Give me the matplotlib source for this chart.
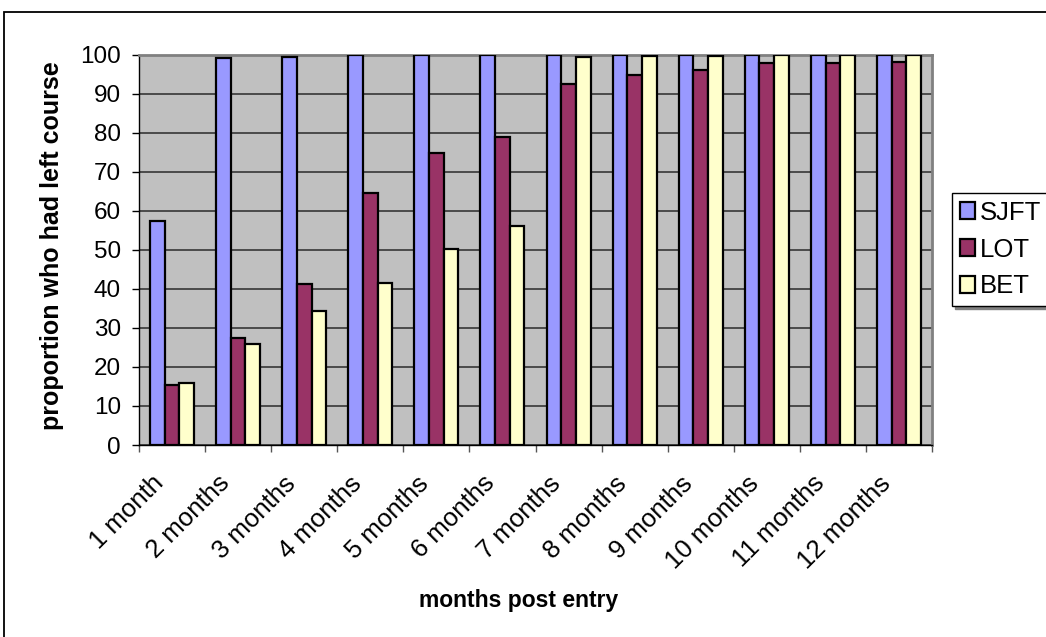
import numpy as np
import matplotlib
matplotlib.use("Agg")
import matplotlib.pyplot as plt
from matplotlib.patches import Rectangle

plt.rcParams['font.family'] = ['Liberation Sans', 'DejaVu Sans']

months = ["1 month", "2 months", "3 months", "4 months", "5 months", "6 months",
          "7 months", "8 months", "9 months", "10 months", "11 months", "12 months"]
sjft = [57.3, 99.1, 99.5, 99.9, 100, 100, 100, 100, 100, 100, 100, 100]
lot = [15.4, 27.5, 41.3, 64.6, 74.7, 78.8, 92.6, 94.8, 96.0, 97.8, 97.9, 98.1]
bet = [15.8, 25.8, 34.4, 41.6, 50.2, 56.0, 99.5, 99.7, 99.7, 99.8, 99.8, 99.8]

series = [("SJFT", sjft, "#9999FF"), ("LOT", lot, "#993366"), ("BET", bet, "#FFFFCC")]

fig = plt.figure(figsize=(10.46, 6.37), dpi=100)
W, H = 1046, 637
ax = fig.add_axes([139 / W, 1 - 445 / H, (932 - 139) / W, (445 - 54.7) / H])
ax.set_facecolor("#C0C0C0")

# outer chart frame
fig.patches.append(Rectangle((4 / W, -0.1), 1.2, 1 - 12 / H + 0.1, transform=fig.transFigure,
                             fill=False, edgecolor="black", linewidth=1.3))

x = np.arange(len(months))
w = 1 / 4.5
for i, (name, vals, col) in enumerate(series):
    ax.bar(x + (i - 1) * w, vals, width=w, color=col, edgecolor="black",
           linewidth=1.6, label=name, zorder=3)

ax.set_xlim(-0.5, len(months) - 0.5)
ax.set_ylim(0, 100)
ax.set_yticks(np.arange(0, 101, 10))
ax.yaxis.grid(True, color="#2a2a2a", linewidth=1.1, zorder=1)
ax.set_axisbelow(True)

# category ticks sit on the boundaries, labels hang just left of the middle
ax.set_xticks(np.arange(-0.5, len(months), 1))
ax.set_xticklabels([])
ax.set_xticks(x - 0.18, minor=True)
ax.set_xticklabels(months, minor=True, rotation=45, ha="right", va="center",
                   rotation_mode="anchor", fontsize=18.5)
ax.tick_params(axis="x", which="minor", length=0, pad=25)
ax.tick_params(axis="x", which="major", length=5, color="#555555", width=1)
ax.tick_params(axis="y", length=5, color="black", width=1, labelsize=17.5, pad=8)

for s in ["top", "right"]:
    ax.spines[s].set_color("#808080")
    ax.spines[s].set_linewidth(2)
ax.spines["left"].set_color("black")
ax.spines["bottom"].set_color("black")
ax.spines["left"].set_linewidth(1)
ax.spines["bottom"].set_linewidth(1)

ax.set_ylabel("proportion who had left course", fontsize=18, fontweight="bold")
ax.yaxis.set_label_coords((64 - 139) / 793, 0.511)
fig.text(519 / W, 1 - 600 / H, "months post entry", fontsize=16.5, fontweight="bold",
         ha="center", va="center")

leg = fig.legend(loc="upper left", bbox_to_anchor=(952 / W, 1 - 193 / H),
                 fontsize=18.5, frameon=True, fancybox=False, edgecolor="black",
                 handlelength=0.6, handleheight=0.6, handletextpad=0.2,
                 labelspacing=0.5, borderpad=0.3, borderaxespad=0,
                 shadow={"color": "#808080", "alpha": 1})
leg.get_frame().set_linewidth(1)

fig.savefig("out.png", dpi=100)
